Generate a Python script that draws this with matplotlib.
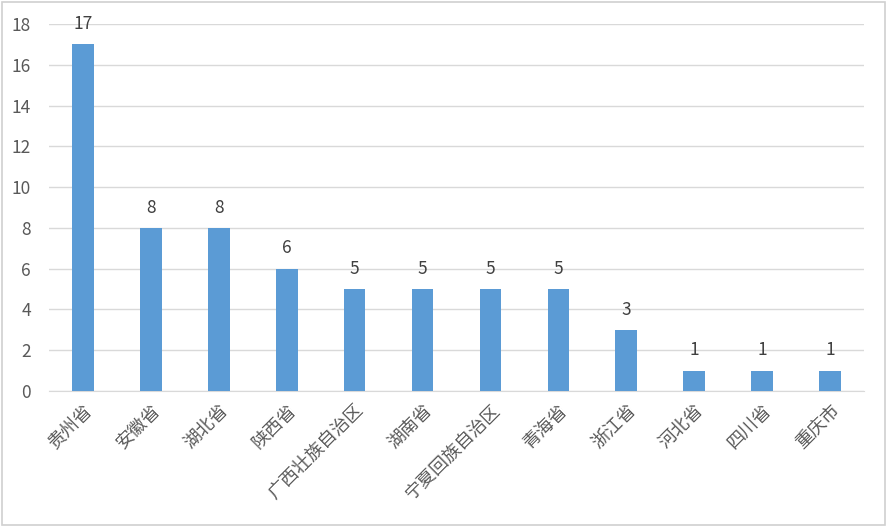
import matplotlib
matplotlib.use("Agg")
import matplotlib.pyplot as plt
from matplotlib.patches import Rectangle

plt.rcParams['font.family'] = ['Noto Sans CJK SC', 'DejaVu Sans']

categories = ["贵州省", "安徽省", "湖北省", "陕西省", "广西壮族自治区", "湖南省",
              "宁夏回族自治区", "青海省", "浙江省", "河北省", "四川省", "重庆市"]
values = [17, 8, 8, 6, 5, 5, 5, 5, 3, 1, 1, 1]
yticks = [0, 2, 4, 6, 8, 10, 12, 14, 16, 18]

fig = plt.figure(figsize=(8.88, 5.27), dpi=100)
ax = fig.add_axes([49/888, 1-391/527, (864-49)/888, (391-24)/527])

x = list(range(len(categories)))
ax.bar(x, values, width=0.32, color='#5B9BD5', zorder=3)
for xi, v in zip(x, values):
    ax.text(xi, v + 0.55, str(v), ha='center', va='bottom', fontsize=12.5,
            color='#404040', fontweight='light')

ax.set_xlim(-0.5, len(categories) - 0.5)
ax.set_ylim(0, 18)
ax.set_yticks(yticks)
ax.set_yticklabels([str(t) for t in yticks], fontsize=12.5, color='#595959', fontweight='light')
ax.set_xticks(x)
ax.set_xticklabels(categories, rotation=45, ha='right', rotation_mode='anchor',
                   fontsize=13, color='#595959', fontweight='light')
ax.tick_params(axis='both', length=0)
ax.tick_params(axis='y', pad=13)
ax.tick_params(axis='x', pad=7)
ax.grid(axis='y', color='#D9D9D9', linewidth=1, zorder=0)
for s in ['top', 'right', 'left']:
    ax.spines[s].set_visible(False)
ax.spines['bottom'].set_color('#D9D9D9')

fig.patches.append(Rectangle((0.002, 0.003), 0.995, 0.994, transform=fig.transFigure,
                             fill=False, edgecolor='#D0D0D0', linewidth=1.2))

fig.savefig('out.png', dpi=100)
